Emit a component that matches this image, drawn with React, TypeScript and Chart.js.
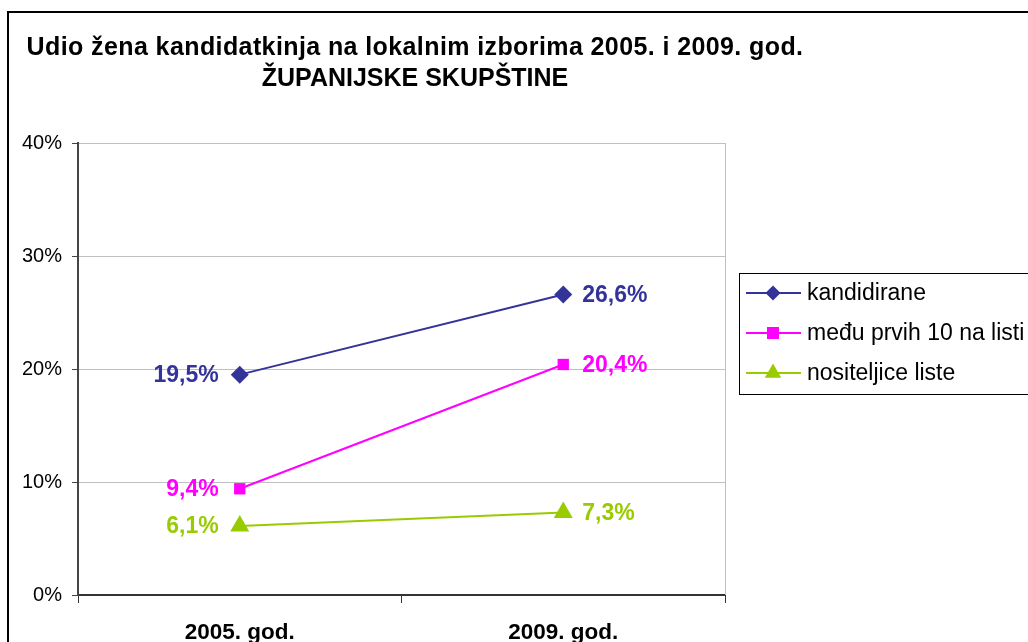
import React, { useEffect, useRef } from "react";
import { Chart, registerables } from "chart.js";

Chart.register(...registerables);

const categories = ["2005. god.", "2009. god."];
const seriesNames = ["kandidirane", "među prvih 10 na listi", "nositeljice liste"];
const kandidirane = [19.5, 26.6];
const medjuPrvih10 = [9.4, 20.4];
const nositeljice = [6.1, 7.3];
const yTicks = [0, 10, 20, 30, 40];
const titleLines = [
  "Udio žena kandidatkinja na lokalnim izborima 2005. i 2009. god.",
  "ŽUPANIJSKE SKUPŠTINE",
];
const seriesColors = ["#333399", "#FF00FF", "#99CC00"];
const seriesMarkers = ["rectRot", "rect", "triangle"];
const markerRadius = [9, 8, 11];

const FONT = "'Liberation Sans', Arial, sans-serif";

const fmt = (v: number) => v.toFixed(1).replace(".", ",") + "%";

function drawMarker(ctx: CanvasRenderingContext2D, kind: string, x: number, y: number, r: number) {
  ctx.beginPath();
  if (kind === "rectRot") {
    ctx.moveTo(x, y - r);
    ctx.lineTo(x + r, y);
    ctx.lineTo(x, y + r);
    ctx.lineTo(x - r, y);
  } else if (kind === "rect") {
    const s = r * Math.SQRT1_2;
    ctx.rect(x - s, y - s, 2 * s, 2 * s);
  } else {
    ctx.moveTo(x, y - r);
    ctx.lineTo(x + r * 0.866, y + r * 0.5);
    ctx.lineTo(x - r * 0.866, y + r * 0.5);
  }
  ctx.closePath();
  ctx.fill();
}

const decorPlugin = {
  id: "decor",
  afterDraw(chart: any) {
    const ctx: any = chart.ctx;
    const area = chart.chartArea;
    ctx.save();
    // outer frame
    ctx.strokeStyle = "#000";
    ctx.lineWidth = 2;
    ctx.beginPath();
    ctx.moveTo(8, 700);
    ctx.lineTo(8, 12);
    ctx.lineTo(1100, 12);
    ctx.stroke();

    // right border of plot area
    ctx.strokeStyle = "#c0c0c0";
    ctx.lineWidth = 1;
    ctx.beginPath();
    ctx.moveTo(area.right + 0.5, area.top);
    ctx.lineTo(area.right + 0.5, area.bottom);
    ctx.stroke();

    // title
    ctx.fillStyle = "#000";
    ctx.font = `bold 25px ${FONT}`;
    ctx.textAlign = "center";
    ctx.textBaseline = "middle";
    ctx.letterSpacing = "0.4px";
    ctx.fillText(titleLines[0], 415, 48);
    ctx.letterSpacing = "0px";
    ctx.fillText(titleLines[1], 415, 79);

    // data labels
    ctx.font = `bold 23px ${FONT}`;
    chart.data.datasets.forEach((ds: any, i: number) => {
      const meta = chart.getDatasetMeta(i);
      ctx.fillStyle = seriesColors[i];
      meta.data.forEach((pt: any, j: number) => {
        const label = fmt(ds.data[j]);
        if (j === 0) {
          ctx.textAlign = "right";
          ctx.fillText(label, pt.x - 21, pt.y + 1);
        } else {
          ctx.textAlign = "left";
          ctx.fillText(label, pt.x + 19, pt.y + 1);
        }
      });
    });

    // legend
    ctx.strokeStyle = "#000";
    ctx.lineWidth = 1;
    ctx.strokeRect(739.5, 273.5, 400, 121);
    ctx.font = `23px ${FONT}`;
    ctx.textAlign = "left";
    ctx.textBaseline = "middle";
    const rows = [293, 333, 373];
    seriesNames.forEach((name, i) => {
      const y = rows[i];
      ctx.strokeStyle = seriesColors[i];
      ctx.lineWidth = 2;
      ctx.beginPath();
      ctx.moveTo(746, y);
      ctx.lineTo(801, y);
      ctx.stroke();
      ctx.fillStyle = seriesColors[i];
      drawMarker(ctx, seriesMarkers[i], 773, y, [7.5, 8.5, 9.5][i]);
      ctx.fillStyle = "#000";
      ctx.fillText(name, 807, y + 1);
    });
    ctx.restore();
  },
};

export default function App() {
  const canvasRef = useRef<HTMLCanvasElement | null>(null);

  useEffect(() => {
    if (!canvasRef.current) return;
    const seriesData = [kandidirane, medjuPrvih10, nositeljice];
    const chart = new Chart(canvasRef.current, {
      type: "line",
      data: {
        labels: categories,
        datasets: seriesNames.map((name, i) => ({
          label: name,
          data: seriesData[i],
          borderColor: seriesColors[i],
          backgroundColor: seriesColors[i],
          borderWidth: 2,
          pointStyle: seriesMarkers[i] as any,
          pointRadius: markerRadius[i],
          pointBorderWidth: 0,
          pointBackgroundColor: seriesColors[i],
          tension: 0,
        })),
      },
      options: {
        animation: false,
        responsive: false,
        layout: { padding: { left: 8, top: 143, right: 303, bottom: 0 } },
        plugins: {
          legend: { display: false },
          title: { display: false },
          tooltip: { enabled: false },
        },
        scales: {
          x: {
            offset: true,
            grid: {
              offset: true,
              drawOnChartArea: false,
              tickLength: 8,
              tickColor: "#333",
            },
            border: { color: "#333", width: 2 },
            ticks: {
              font: { family: FONT, size: 22.5, weight: "bold" },
              color: "#000",
              padding: 16,
            },
            afterFit: (s: any) => {
              s.height = 47;
            },
          },
          y: {
            min: 0,
            max: 40,
            afterBuildTicks: (s: any) => {
              s.ticks = yTicks.map((v) => ({ value: v }));
            },
            ticks: {
              callback: (v: any) => v + "%",
              font: { family: FONT, size: 20 },
              color: "#000",
              padding: 10,
            },
            grid: { color: "#c0c0c0", tickColor: "#444", tickLength: 6, lineWidth: 1 },
            border: { color: "#444", width: 2 },
            afterFit: (s: any) => {
              s.width = 70;
            },
          },
        },
      },
      plugins: [decorPlugin],
    });
    return () => chart.destroy();
  }, []);

  return (
    <div
      style={{
        position: "fixed",
        left: 0,
        top: 0,
        width: 1028,
        height: 642,
        overflow: "hidden",
        background: "#fff",
      }}
    >
      <canvas ref={canvasRef} width={1028} height={642} style={{ display: "block" }} />
    </div>
  );
}
